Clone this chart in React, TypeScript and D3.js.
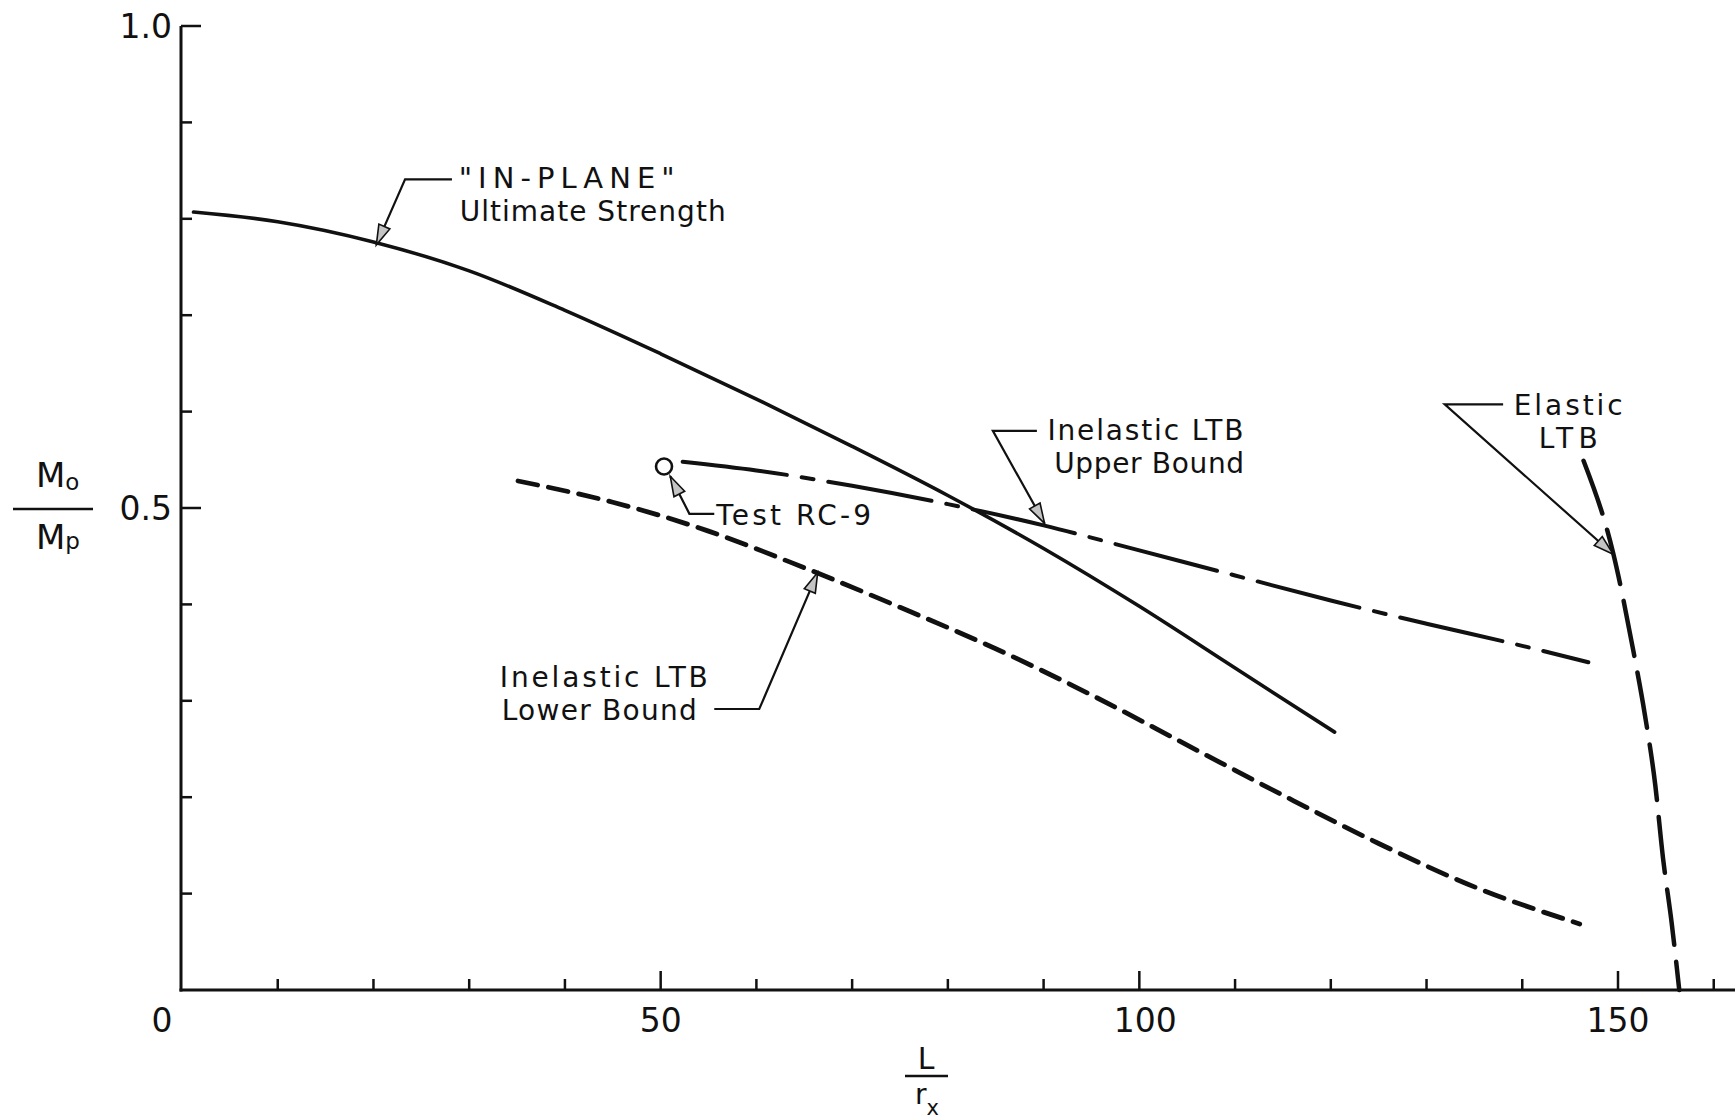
import React from "react";
import * as d3 from "d3";

const W = 1735;
const H = 1120;

// "IN-PLANE" ultimate strength (solid)
const ultimateX = [1.2, 10, 20, 30, 40, 50, 60, 70, 80, 90, 100, 110, 120.4];
const ultimateY = [0.807, 0.797, 0.776, 0.746, 0.705, 0.66, 0.613, 0.564, 0.513, 0.458, 0.398, 0.334, 0.2675];

// Inelastic LTB upper bound (dash-dot)
const upperX = [52.3, 60, 70, 80, 90, 100, 110, 120, 130, 140, 146.9];
const upperY = [0.548, 0.539, 0.523, 0.504, 0.482, 0.456, 0.43, 0.404, 0.38, 0.357, 0.34];

// Inelastic LTB lower bound (dashed)
const lowerX = [35.1, 45, 55, 65, 75, 85, 95, 105, 115, 125, 135, 146];
const lowerY = [0.528, 0.506, 0.476, 0.438, 0.397, 0.354, 0.306, 0.254, 0.202, 0.152, 0.107, 0.0685];

// Elastic LTB (long dashes)
const elasticX = [146.4, 149.5, 151.6, 152.8, 153.9, 154.7, 155.6, 156.4];
const elasticY = [0.549, 0.453, 0.352, 0.286, 0.212, 0.137, 0.07, 0.0];

// Test RC-9 point
const testX = [50.35];
const testY = [0.543];

// Axis ticks
const xTicks = [10, 20, 30, 40, 50, 60, 70, 80, 90, 100, 110, 120, 130, 140, 150, 160];
const xMajor = [50, 100, 150];
const xLabelValues = [0, 50, 100, 150];
const xLabels = ["0", "50", "100", "150"];
const yTicks = [0.1, 0.2, 0.3, 0.4, 0.5, 0.6, 0.7, 0.8, 0.9, 1.0];
const yMajor = [0.5, 1.0];
const yLabelValues = [0.5, 1.0];
const yLabels = ["0.5", "1.0"];

// Annotation leaders (data coordinates; last point is the arrow tip)
const leaderInPlane: [number, number][] = [[28.2, 0.841], [23.3, 0.841], [20.3, 0.773]];
const leaderUpper: [number, number][] = [[89.3, 0.58], [84.7, 0.58], [90.1, 0.484]];
const leaderTest: [number, number][] = [[55.6, 0.494], [53.0, 0.494], [51.0, 0.533]];
const leaderLower: [number, number][] = [[55.6, 0.2915], [60.3, 0.2915], [66.4, 0.433]];
const leaderElastic: [number, number][] = [[138.0, 0.6075], [131.9, 0.6075], [149.5, 0.452]];

const FONT = "DejaVu Sans, Liberation Sans, sans-serif";
const FS = 28;

type Line = { s: string; x: number; y: number; len: number; size?: number };

export default function App() {
  const x = d3.scaleLinear().domain([0, 150]).range([182, 1618]);
  const y = d3.scaleLinear().domain([0, 1]).range([990, 26]);

  const path = (xs: number[], ys: number[]) =>
    d3
      .line<number>()
      .x((_, i) => x(xs[i]))
      .y((_, i) => y(ys[i]))
      .curve(d3.curveMonotoneX)(xs) || "";

  const leader = (pts: [number, number][], key: string) => {
    const p = pts.map(([a, b]) => [x(a), y(b)] as [number, number]);
    const tip = p[p.length - 1];
    const prev = p[p.length - 2];
    const dx = tip[0] - prev[0];
    const dy = tip[1] - prev[1];
    const len = Math.hypot(dx, dy);
    const ux = dx / len;
    const uy = dy / len;
    const L = 20;
    const w = 6;
    const bx = tip[0] - ux * L;
    const by = tip[1] - uy * L;
    const tri = [
      [tip[0], tip[1]],
      [bx - uy * w, by + ux * w],
      [bx + uy * w, by - ux * w],
    ];
    return (
      <g key={key}>
        <path d={d3.line()(p) || ""} fill="none" stroke="#111" strokeWidth={2.2} />
        <polygon
          points={tri.map((q) => q.join(",")).join(" ")}
          fill="#c4c4c4"
          stroke="#111"
          strokeWidth={1.6}
          strokeLinejoin="miter"
        />
      </g>
    );
  };

  const label = (lines: Line[], anchor: "start" | "middle" = "start", key: string) => (
    <g key={key}>
      {lines.map((l, i) => (
        <text
          key={i}
          x={x(l.x)}
          y={y(l.y)}
          fontFamily={FONT}
          fontSize={l.size || FS}
          textAnchor={anchor}
          textLength={l.len}
          lengthAdjust="spacing"
          fill="#111"
        >
          {l.s}
        </text>
      ))}
    </g>
  );

  return (
    <svg
      width={W}
      height={H}
      viewBox={`0 0 ${W} ${H}`}
      style={{ position: "absolute", left: 0, top: 0, background: "#fff" }}
    >
      <rect x={0} y={0} width={W} height={H} fill="#fff" />

      {/* Axes */}
      <line x1={x(0) - 1} y1={y(1)} x2={x(0) - 1} y2={y(0) + 1.5} stroke="#111" strokeWidth={3} />
      <line x1={x(0) - 2.5} y1={y(0)} x2={W} y2={y(0)} stroke="#111" strokeWidth={3} />

      {yTicks.map((t) => (
        <line
          key={"yt" + t}
          x1={x(0) - 1}
          x2={x(0) - 1 + (yMajor.includes(t) ? 20 : 11)}
          y1={y(t)}
          y2={y(t)}
          stroke="#111"
          strokeWidth={2.5}
        />
      ))}
      {xTicks.map((t) => (
        <line
          key={"xt" + t}
          x1={x(t)}
          x2={x(t)}
          y1={y(0)}
          y2={y(0) - (xMajor.includes(t) ? 19 : 11)}
          stroke="#111"
          strokeWidth={2.5}
        />
      ))}

      {yLabelValues.map((v, i) => (
        <text
          key={"yl" + v}
          x={x(0) - 10}
          y={y(v) + 12}
          fontSize={33}
          fontFamily={FONT}
          textAnchor="end"
          fill="#111"
        >
          {yLabels[i]}
        </text>
      ))}
      {xLabelValues.map((v, i) => (
        <text
          key={"xl" + v}
          x={x(v) + (v === 0 ? -20 : v === 100 ? 6 : 0)}
          y={y(0) + 42}
          fontSize={33}
          fontFamily={FONT}
          textAnchor="middle"
          fill="#111"
        >
          {xLabels[i]}
        </text>
      ))}

      {/* Y-axis title: Mo / Mp */}
      <g fontFamily={FONT} fill="#111">
        <text x={36} y={487} fontSize={34}>
          M<tspan fontSize={23} dy={3}>o</tspan>
        </text>
        <line x1={13} x2={93} y1={509} y2={509} stroke="#111" strokeWidth={2.5} />
        <text x={36} y={549} fontSize={34}>
          M<tspan fontSize={23}>p</tspan>
        </text>
      </g>

      {/* X-axis title: L / rx */}
      <g fontFamily={FONT} fill="#111">
        <text x={926} y={1069} fontSize={30} textAnchor="middle">L</text>
        <line x1={905} x2={948} y1={1076} y2={1076} stroke="#111" strokeWidth={2.5} />
        <text x={915} y={1104} fontSize={28}>
          r<tspan fontSize={21} dy={11}>x</tspan>
        </text>
      </g>

      {/* Curves */}
      <path d={path(ultimateX, ultimateY)} fill="none" stroke="#111" strokeWidth={3.6} strokeLinecap="round" />
      <path
        d={path(upperX, upperY)}
        fill="none"
        stroke="#111"
        strokeWidth={4}
        strokeDasharray="105 15 12 15"
        strokeLinecap="round"
      />
      <path
        d={path(lowerX, lowerY)}
        fill="none"
        stroke="#111"
        strokeWidth={4.8}
        strokeDasharray="20 11"
        strokeLinecap="round"
      />
      <path
        d={path(elasticX, elasticY)}
        fill="none"
        stroke="#111"
        strokeWidth={4.5}
        strokeDasharray="56 17"
        strokeLinecap="round"
      />

      {/* Test point */}
      {testX.map((tx, i) => (
        <circle key={"tp" + i} cx={x(tx)} cy={y(testY[i])} r={8} fill="#fff" stroke="#111" strokeWidth={2.6} />
      ))}

      {/* Leaders */}
      {leader(leaderInPlane, "l1")}
      {leader(leaderUpper, "l2")}
      {leader(leaderTest, "l3")}
      {leader(leaderLower, "l4")}
      {leader(leaderElastic, "l5")}

      {/* Annotation text */}
      {label(
        [
          { s: '"IN-PLANE"', x: 28.9, y: 0.832, len: 216, size: 29 },
          { s: "Ultimate Strength", x: 29.0, y: 0.7977, len: 266 },
        ],
        "start",
        "a1"
      )}
      {label(
        [
          { s: "Inelastic LTB", x: 90.4, y: 0.5705, len: 196 },
          { s: "Upper Bound", x: 91.1, y: 0.5363, len: 190 },
        ],
        "start",
        "a2"
      )}
      {label([{ s: "Test RC-9", x: 55.8, y: 0.4824, len: 155 }], "start", "a3")}
      {label(
        [
          { s: "Inelastic LTB", x: 33.2, y: 0.3143, len: 208 },
          { s: "Lower Bound", x: 33.4, y: 0.2801, len: 195 },
        ],
        "start",
        "a4"
      )}
      {label(
        [
          { s: "Elastic", x: 144.8, y: 0.5965, len: 109 },
          { s: "LTB", x: 144.8, y: 0.5622, len: 59 },
        ],
        "middle",
        "a5"
      )}
    </svg>
  );
}
